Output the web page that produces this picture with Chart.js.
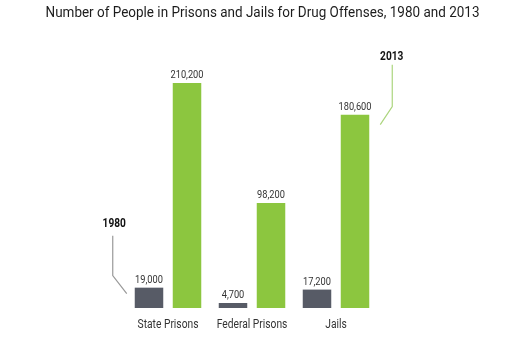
<!DOCTYPE html>
<html>
<head>
<meta charset="utf-8">
<script src="https://cdn.jsdelivr.net/npm/chart.js@4.4.1/dist/chart.umd.min.js"></script>
<style>
  html, body { margin: 0; padding: 0; background: #fff; }
  #wrap { width: 525px; height: 350px; }
</style>
</head>
<body>
<div id="wrap"><canvas id="myChart"></canvas></div>
<script>
var chartTitle = "Number of People in Prisons and Jails for Drug Offenses, 1980 and 2013";
var categories = ["State Prisons", "Federal Prisons", "Jails"];
var values1980 = [19000, 4700, 17200];
var values2013 = [210200, 98200, 180600];
var seriesNames = ["1980", "2013"];
var barColors = ["#575b66", "#8cc63f"];

// Roboto squeezed sideways to look like a condensed face
function condensedText(ctx, text, x, y, font, k, color) {
	ctx.save();
	ctx.font = font;
	ctx.fillStyle = color;
	ctx.textAlign = "center";
	ctx.textBaseline = "alphabetic";
	ctx.translate(x, y);
	ctx.scale(k, 1);
	ctx.fillText(text, 0, 0);
	ctx.restore();
}

var textLayer = {
	id: "textLayer",
	afterDatasetsDraw: function(chart) {
		var ctx = chart.ctx;
		var xs = chart.scales.x;
		var area = chart.chartArea;

		// title
		condensedText(ctx, chartTitle, chart.width / 2, 17, "14.5px Roboto", 0.93, "#1c1c1c");

		// category names under the bars
		categories.forEach(function(c, i) {
			condensedText(ctx, c, xs.getPixelForValue(i), area.bottom + 20, "12px Roboto", 0.855, "#333");
		});

		// value over each bar
		chart.data.datasets.forEach(function(ds, i) {
			chart.getDatasetMeta(i).data.forEach(function(bar, j) {
				condensedText(ctx, ds.data[j].toLocaleString("en-US"), bar.x, bar.y - 5, "10.5px Roboto", 0.88, "#333");
			});
		});

		ctx.save();
		ctx.lineWidth = 1.2;

		// 1980 callout on the first gray bar
		var b = chart.getDatasetMeta(0).data[0];
		var left = b.x - b.width / 2;
		ctx.strokeStyle = "#999";
		ctx.beginPath();
		ctx.moveTo(left - 22, b.y - 52);
		ctx.lineTo(left - 22, b.y - 12);
		ctx.lineTo(left - 8, b.y + 6);
		ctx.stroke();
		condensedText(ctx, seriesNames[0], left - 20.5, b.y - 61, "bold 13px Roboto", 0.78, "#111");

		// 2013 callout on the last green bar
		var g = chart.getDatasetMeta(1).data[2];
		var right = g.x + g.width / 2;
		ctx.strokeStyle = "#acd57e";
		ctx.beginPath();
		ctx.moveTo(right + 23, g.y - 50);
		ctx.lineTo(right + 23, g.y - 8);
		ctx.lineTo(right + 11, g.y + 10);
		ctx.stroke();
		condensedText(ctx, seriesNames[1], right + 22.5, g.y - 55, "bold 13px Roboto", 0.78, "#111");
		ctx.restore();
	}
};

new Chart("myChart", {
	type: "bar",
	data: {
		labels: categories,
		datasets: [{
			label: seriesNames[0],
			data: values1980,
			backgroundColor: barColors[0]
		}, {
			label: seriesNames[1],
			data: values2013,
			backgroundColor: barColors[1]
		}]
	},
	options: {
		responsive: true,
		maintainAspectRatio: false,
		animation: false,
		categoryPercentage: 0.905,
		barPercentage: 0.75,
		layout: {
			padding: { left: 126, right: 147, top: 83, bottom: 42 }
		},
		plugins: {
			legend: { display: false },
			tooltip: { enabled: false },
			title: { display: false }
		},
		scales: {
			x: { display: false },
			y: { display: false, min: 0, max: 210200 }
		}
	},
	plugins: [textLayer]
});
</script>
</body>
</html>
